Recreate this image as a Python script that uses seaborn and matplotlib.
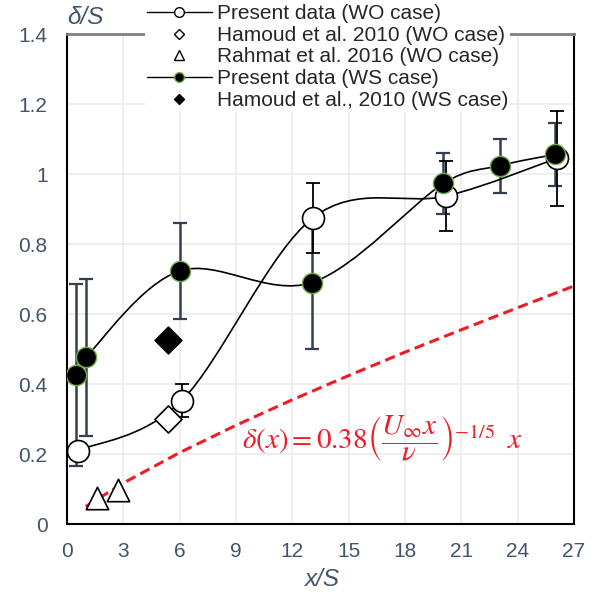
import numpy as np
import matplotlib
matplotlib.use("Agg")
import matplotlib.pyplot as plt
import seaborn as sns
import pandas as pd
from matplotlib.path import Path
from matplotlib.patches import PathPatch
from matplotlib.lines import Line2D

# ---------------- data ----------------
wo_x = [0.6, 6.1, 13.1, 20.2, 26.1]
wo_y = [0.21, 0.352, 0.875, 0.937, 1.045]
wo_err = [0.02, 0.047, 0.10, 0.10, 0.135]

ws_x = [0.5, 1.0, 6.0, 13.05, 20.05, 23.05, 26.0]
ws_y = [0.426, 0.476, 0.723, 0.69, 0.973, 1.024, 1.056]
ws_err = [0.26, 0.225, 0.138, 0.19, 0.087, 0.077, 0.09]

hamoud_wo_x = [5.4]
hamoud_wo_y = [0.299]
hamoud_ws_x = [5.4]
hamoud_ws_y = [0.526]
rahmat_x = [1.58, 2.74]
rahmat_y = [0.074, 0.097]

theory_x = [1, 3, 6, 9, 12, 15, 18, 21, 24, 27]
theory_y = [0.05, 0.117, 0.204, 0.282, 0.355, 0.424, 0.491, 0.555, 0.618, 0.68]

x_ticks = [0, 3, 6, 9, 12, 15, 18, 21, 24, 27]
y_ticks = [0, 0.2, 0.4, 0.6, 0.8, 1.0, 1.2, 1.4]
y_tick_labels = ["0", "0.2", "0.4", "0.6", "0.8", "1", "1.2", "1.4"]

legend_labels = ["Present data (WO case)", "Hamoud et al. 2010 (WO case)",
                 "Rahmat et al. 2016 (WO case)", "Present data (WS case)",
                 "Hamoud et al., 2010 (WS case)"]

TXT = "#44546A"
RED = "#EE1C25"

sns.set_style("white")
plt.rcParams["font.family"] = ["Liberation Sans", "DejaVu Sans"]
plt.rcParams["mathtext.fontset"] = "stix"

fig = plt.figure(figsize=(5.97, 5.94), dpi=100)
ax = fig.add_axes([67 / 597, 70 / 594, 507 / 597, 490 / 594])

ax.set_xlim(0, 27)
ax.set_ylim(0, 1.4)

SX = 507 / 27.0
SY = 490 / 1.4


def smooth_path(xs, ys):
    P = np.column_stack([xs, ys]).astype(float)
    n = len(P)
    scale = np.array([SX, SY])
    verts = [P[0]]
    codes = [Path.MOVETO]
    for i in range(n - 1):
        p0 = P[i - 1] if i > 0 else P[i]
        p1 = P[i]
        p2 = P[i + 1]
        p3 = P[i + 2] if i + 2 < n else P[i + 1]
        seg = np.linalg.norm((p2 - p1) * scale)
        t1 = (p2 - p0) / 6.0
        t2 = (p3 - p1) / 6.0
        l1 = np.linalg.norm(t1 * scale)
        l2 = np.linalg.norm(t2 * scale)
        if l1 > 0.5 * seg and l1 > 0:
            t1 = t1 * (0.5 * seg / l1)
        if l2 > 0.5 * seg and l2 > 0:
            t2 = t2 * (0.5 * seg / l2)
        verts += [p1 + t1, p2 - t2, p2]
        codes += [Path.CURVE4] * 3
    return Path(verts, codes)


# grid
for xv in x_ticks:
    ax.axvline(xv, color="#EEEEEE", lw=1.4, zorder=0)
for yv in y_ticks:
    ax.axhline(yv, color="#EEEEEE", lw=1.4, zorder=0)

# theory dashed line
sns.lineplot(x=theory_x, y=theory_y, ax=ax, color=RED, lw=2.2,
             linestyle=(0, (3.4, 1.8)), zorder=2)

# error bars
ax.errorbar(ws_x, ws_y, yerr=ws_err, fmt="none", ecolor="#333F50",
            elinewidth=1.8, capsize=5, capthick=1.6, zorder=3)
ax.errorbar(wo_x, wo_y, yerr=wo_err, fmt="none", ecolor="black",
            elinewidth=1.3, capsize=5, capthick=1.3, zorder=4)

# smooth curves
ax.add_patch(PathPatch(smooth_path(wo_x, wo_y), fc="none", ec="black", lw=1.2, zorder=5))
ax.add_patch(PathPatch(smooth_path(ws_x, ws_y), fc="none", ec="black", lw=1.2, zorder=7))

# markers
sns.scatterplot(x=wo_x, y=wo_y, ax=ax, marker="o", s=250, color="white",
                edgecolor="black", linewidth=1.2, zorder=6)
sns.scatterplot(x=hamoud_wo_x, y=hamoud_wo_y, ax=ax, marker="D", s=190,
                color="white", edgecolor="black", linewidth=1.2, zorder=6)
sns.scatterplot(x=rahmat_x, y=rahmat_y, ax=ax, marker="^", s=260,
                color="white", edgecolor="black", linewidth=1.2, zorder=6)
sns.scatterplot(x=ws_x, y=ws_y, ax=ax, marker="o", s=210, color="black",
                edgecolor="#70AD47", linewidth=1.0, zorder=8)
sns.scatterplot(x=hamoud_ws_x, y=hamoud_ws_y, ax=ax, marker="D", s=190,
                color="black", edgecolor="black", linewidth=1.0, zorder=8)

# formula
ax.text(9.3, 0.246,
        r"$\delta(x) = 0.38\left(\dfrac{U_{\infty}x}{\nu}\right)^{-1/5}\;\;x$",
        color=RED, fontsize=21, ha="left", va="center", zorder=9)

# spines
for s in ["left", "bottom", "right"]:
    ax.spines[s].set_color("black")
    ax.spines[s].set_linewidth(1.5)
ax.spines["top"].set_color("#7F7F7F")
ax.spines["top"].set_linewidth(2)

ax.set_xticks(x_ticks)
ax.set_xticklabels([str(v) for v in x_ticks])
ax.set_yticks(y_ticks)
ax.set_yticklabels(y_tick_labels)
ax.tick_params(axis="x", direction="out", length=5, width=1, color="#808080",
               labelsize=15, labelcolor=TXT, pad=8)
ax.tick_params(axis="y", length=0, labelsize=15, labelcolor=TXT, pad=14)
ax.set_xlabel("")
ax.set_ylabel("")

fig.text(322 / 597, 1 - 580 / 594, "x/S", fontsize=17.5, style="italic",
         color=TXT, ha="center", va="center")
fig.text(67 / 597, 1 - 17 / 594, "δ/S", fontsize=17.5, style="italic",
         color=TXT, ha="left", va="center")

# legend
handles = [
    Line2D([], [], color="black", lw=1, marker="o", ms=7, mfc="white", mec="black"),
    Line2D([], [], ls="none", marker="D", ms=5.5, mfc="white", mec="black"),
    Line2D([], [], ls="none", marker="^", ms=7, mfc="white", mec="black"),
    Line2D([], [], color="black", lw=1, marker="o", ms=7, mfc="black", mec="#70AD47"),
    Line2D([], [], ls="none", marker="D", ms=5.5, color="black"),
]
leg = fig.legend(handles, legend_labels, loc="upper left",
                 bbox_to_anchor=(145 / 597, 1 - 2 / 594), fontsize=15,
                 frameon=True, facecolor="white", edgecolor="none", framealpha=1,
                 handlelength=3.1, handletextpad=0.25, labelspacing=0.13,
                 borderpad=0.1, borderaxespad=0)
leg.set_zorder(20)

fig.savefig("out.png", dpi=100)
